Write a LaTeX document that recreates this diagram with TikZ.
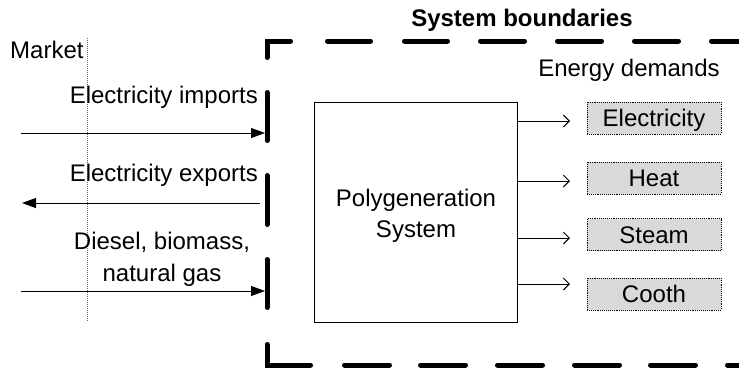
\documentclass[tikz,border=0pt]{standalone}
\usepackage{fontspec}
\setmainfont{Liberation Sans}
\usetikzlibrary{arrows.meta}
\begin{document}
\begin{tikzpicture}[x=1pt,y=-1pt,
  every node/.style={font=\fontsize{24}{31}\selectfont, inner sep=0pt},
  bound/.style={line width=5pt, line cap=round},
  inarrow/.style={line width=0.9pt, -{Triangle[length=14pt,width=10pt]}},
  outarrow/.style={line width=0.9pt, -{Straight Barb[length=6pt,width=12pt]}},
  demand/.style={draw, densely dotted, fill=black!15, line width=0.9pt,
    minimum width=134pt, minimum height=32pt, text height=17pt, text depth=0pt},
  polybox/.style={draw, line width=1pt, minimum width=203pt, minimum height=220pt},
  marketline/.style={draw=black!60, line width=0.6pt, dash pattern=on 1pt off 1pt},
]
\useasboundingbox (0,0) rectangle (739,376);

% system boundary (dashed, drawn directly)
\draw[bound] (267,57.5) -- (267,41) -- (290.5,41);
\foreach \a/\b in {327.5/370.5, 404.5/447.5, 480.5/524.5, 557.5/601.5, 634.5/678.5, 711.5/770}
  \draw[bound] (\a,41) -- (\b,41);
\foreach \a/\b in {92.5/140.5, 175.5/224.5, 259.5/307.5}
  \draw[bound] (267,\a) -- (267,\b);
\draw[bound] (267,344.5) -- (267,365) -- (310.5,365);
\foreach \a/\b in {344.5/389.5, 420.5/465.5, 497.5/542.5, 574.5/619.5, 650.5/695.5, 727.5/770}
  \draw[bound] (\a,365) -- (\b,365);

% titles
\node[anchor=base, font=\fontsize{24}{29}\selectfont\bfseries] (title) at (522,26) {System boundaries};
\node[anchor=base] (edem) at (629,76) {Energy demands};

% market side
\coordinate (mtop) at (87,38);
\coordinate (mbot) at (87,322);
\draw[marketline] (mtop) -- (mbot);
\node[anchor=base west] (market) at (10,58) {Market};

\node[anchor=base east] (imp) at (258,103) {Electricity imports};
\node[anchor=base east] (exp) at (258,181) {Electricity exports};
\node[anchor=base] (fuel1) at (162,249) {Diesel, biomass,};
\node[anchor=base] (fuel2) at (162,281) {natural gas};

\coordinate (impL) at (21,133);
\coordinate (impR) at (265,133);
\coordinate (expR) at (260,203);
\coordinate (expL) at (22,203);
\coordinate (fuelL) at (21,291);
\coordinate (fuelR) at (265,291);
\draw[inarrow] (impL) -- (impR);
\draw[inarrow] (expR) -- (expL);
\draw[inarrow] (fuelL) -- (fuelR);

% polygeneration system
\node[polybox] (poly) at (416,212) {};
\node[anchor=base] (polyt1) at (416,206) {Polygeneration};
\node[anchor=base] (polyt2) at (416,237) {System};

% demands
\node[demand] (d1) at (654,118) {Electricity};
\node[demand] (d2) at (654,178) {Heat};
\node[demand] (d3) at (654,234.5) {Steam};
\node[demand] (d4) at (654,294) {Cooth};

\coordinate (o1) at (570,121);
\coordinate (o2) at (570,181);
\coordinate (o3) at (570,238);
\coordinate (o4) at (570,284);
\foreach \o in {o1,o2,o3,o4}
  \draw[outarrow] (poly.east |- \o) -- (\o);
\end{tikzpicture}
\end{document}
